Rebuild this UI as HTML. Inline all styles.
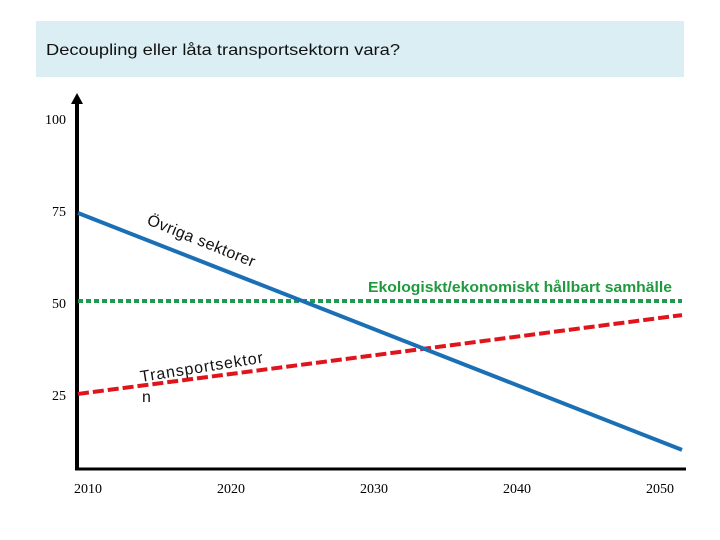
<!DOCTYPE html>
<html><head><meta charset="utf-8"><style>
body{margin:0;background:#fff;width:720px;height:540px;overflow:hidden}
svg{display:block;font-family:"Liberation Serif",serif}
</style></head><body>
<svg width="720" height="540">
<rect x="36" y="21" width="648" height="56" fill="#dbeef4"/>
<text x="46" y="55" font-family="Liberation Sans, sans-serif" font-size="16" fill="#111" textLength="354" lengthAdjust="spacingAndGlyphs">Decoupling eller låta transportsektorn vara?</text>
<g id="axes">
<line x1="77" y1="100" x2="77" y2="469" stroke="#000" stroke-width="4"/>
<polygon points="77,93 71,104 83,104" fill="#000"/>
<line x1="75" y1="469" x2="686" y2="469" stroke="#000" stroke-width="3"/>
</g>
<g id="yt"></g><g id="xt"></g><g id="series"></g>
<text x="0" y="0" font-family="Liberation Sans, sans-serif" font-size="15" font-weight="bold" fill="#1f9a3e" textLength="304" lengthAdjust="spacingAndGlyphs" transform="translate(368,292)">Ekologiskt/ekonomiskt hållbart samhälle</text>
<text font-family="Liberation Sans, sans-serif" font-size="16" fill="#111" textLength="115" transform="translate(146,224) rotate(22)">Övriga sektorer</text>
<text font-family="Liberation Sans, sans-serif" font-size="16" fill="#111" textLength="124" transform="translate(141,382) rotate(-9)">Transportsektor</text>
<text font-family="Liberation Sans, sans-serif" font-size="16" fill="#111" x="142" y="402">n</text>
</svg>
<script>
const yTicks=[100,75,50,25];
const xTicks=[2010,2020,2030,2040,2050];
const years=[2010,2050];
const ovriga=[75,7.7];
const transport=[23.6,46];
const hallbart=[50,50];
const NS="http://www.w3.org/2000/svg";
function X(y){return 78+(y-2010)*15.05;}
function Y(v){return 301-(v-50)*3.52;}
function yLab(v){return {100:119,75:211,50:303,25:395}[v]??Y(v);}
const yt=document.getElementById('yt'),xt=document.getElementById('xt'),sg=document.getElementById('series');
yTicks.forEach(v=>{const t=document.createElementNS(NS,'text');


t.setAttribute('x',66);t.setAttribute('y',yLab(v)+5);t.setAttribute('text-anchor','end');t.setAttribute('font-size','14');t.textContent=v;yt.appendChild(t);});
xTicks.forEach(v=>{const t=document.createElementNS(NS,'text');


const px=88+(v-2010)*14.3;
t.setAttribute('x',px);t.setAttribute('y',493);t.setAttribute('text-anchor','middle');t.setAttribute('font-size','14');t.textContent=v;xt.appendChild(t);});
function line(vals,color,dash,w,name){const l=document.createElementNS(NS,'line');


l.setAttribute('x1',X(years[0]));l.setAttribute('y1',Y(vals[0]));l.setAttribute('x2',X(years[1])+2);l.setAttribute('y2',Y(vals[1]));
l.setAttribute('stroke',color);l.setAttribute('stroke-width',w);if(dash)l.setAttribute('stroke-dasharray',dash);sg.appendChild(l);}
line(hallbart,'#1f9a4e','5 3',4,'hallbart-line');
line(transport,'#e0141b','11 4',4,'transport-line');
line(ovriga,'#1a6fb5',null,4,'ovriga-line');
</script>
</body></html>
